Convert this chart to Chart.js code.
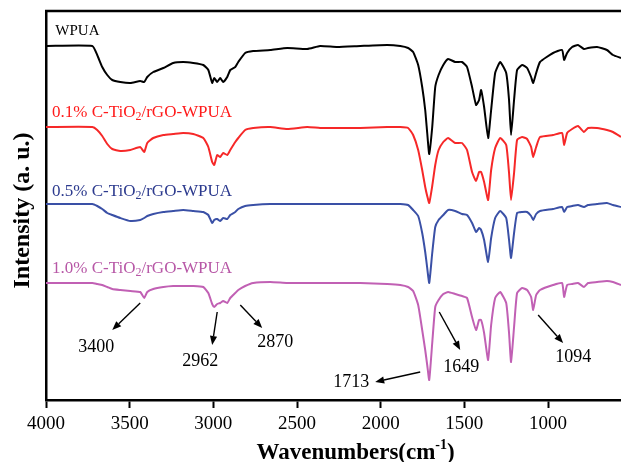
<!DOCTYPE html>
<html>
<head>
<meta charset="UTF-8">
<title>FTIR WPUA</title>
<script src="https://cdn.jsdelivr.net/npm/chart.js"></script>
<style>
  body { margin: 0; background: #fff; }
  #wrap { width: 621px; height: 462px; }
</style>
</head>
<body>
<div id="wrap"><canvas id="ftir" width="621" height="462"></canvas></div>
<script>
// wavenumbers (cm-1) shared by all four spectra
const wavenumbers = [4000, 3723, 3694, 3664, 3634, 3604, 3556, 3496, 3437, 3413, 3395, 3359, 3299, 3240, 3180, 3120,
  3060, 3030, 3007, 2995, 2977, 2959, 2941, 2917, 2899, 2869, 2851, 2810, 2762, 2660, 2558, 2439, 2362, 2260, 2122,
  1961, 1883, 1836, 1806, 1776, 1752, 1734, 1722, 1710, 1692, 1674, 1654, 1626, 1597, 1555, 1514, 1484, 1454, 1430,
  1412, 1400, 1382, 1358, 1340, 1316, 1286, 1250, 1233, 1221, 1203, 1185, 1155, 1125, 1101, 1089, 1071, 1048, 970,
  916, 904, 886, 856, 821, 785, 761, 707, 648, 612, 564];

// intensities (a.u., curves already stacked)
const wpua = [354,354,345,333,325,320,318,317,319,318, 323,328,332,337,338,337,335,330,317,322,
  318,322,318,323,330,333,338,347,349,350, 352,351,354,353,354,355,354,352,348,335,
  313,290,267,246,273,313,325,335,341,338, 338,333,313,295,300,310,293,262,290,327,
  338,327,300,265,300,330,335,332,323,317, 327,338,347,350,340,347,353,355,351,352, 353,350,345,342];
const tio01 = [273,273,270,264,256,251,249,250,253,248, 257,262,265,266,267,266,262,253,238,235,
  245,243,247,245,250,258,262,270,272,273, 271,273,272,272,272,273,273,272,265,250,
  230,213,204,197,214,235,250,258,262,257, 257,250,228,219,228,228,218,200,230,252,
  262,255,227,200,227,260,263,261,253,243, 253,263,265,267,255,267,271,274,268,272, 272,270,268,263];
const tio05 = [196,196,194,191,187,185,182,179,180,182, 184,186,188,189,190,189,188,185,177,180,
  181,179,182,181,185,188,191,194,195,196, 196,196,196,196,196,196,196,195,190,184,
  167,148,132,117,147,173,180,185,190,189, 186,185,177,168,172,170,160,138,162,182,
  189,182,160,142,167,187,188,188,184,180, 186,189,191,193,188,193,194,195,193,195, 196,197,195,193];
const tio10 = [117,117,116,115,113,111,110,109,108,102, 108,111,113,114,114,114,113,107,96,93,
  96,97,99,97,102,107,110,114,117,118, 117,117,117,117,117,116,115,113,109,95,
  70,50,35,20,57,93,100,106,108,106, 104,102,83,70,80,80,67,40,75,102,
  108,97,67,38,73,107,112,110,103,90, 105,110,115,117,103,115,116,117,113,117, 118,119,118,115];

const seriesNames = ['WPUA', '0.1% C-TiO2/rGO-WPUA', '0.5% C-TiO2/rGO-WPUA', '1.0% C-TiO2/rGO-WPUA'];
const xTicks = [4000, 3500, 3000, 2500, 2000, 1500, 1000];
const peakLabels = ['3400', '2962', '2870', '1713', '1649', '1094'];

const lineColors = ['#000000', '#f62828', '#3a50a6', '#c160b4'];
const textColors = ['#000000', '#ff1a1a', '#2c3a8e', '#b757a6'];
// where the series names sit: [wavenumber, intensity] of the baseline start
const nameAnchors = [[3944, 365], [3964, 283], [3964, 204], [3964, 127]];
// peak note text centre, arrow tail, arrow head
const peakTextAt = [[3700, 53], [3078, 39], [2630, 58], [2176, 18], [1519, 33], [850, 43]];
const arrowFrom = [[3437, 97], [2977, 88], [2839, 95], [1764, 28], [1650, 88], [1059, 85]];
const arrowTo = [[3604, 70], [3007, 55], [2708, 72], [2033, 18], [1525, 50], [910, 57]];

const SERIF = '"Liberation Serif", "Times New Roman", serif';
const series = [wpua, tio01, tio05, tio10];

function drawName(ctx, text, px, py, size) {
  const parts = text.split('TiO2');
  let cx = px;
  parts.forEach((p, i) => {
    const s = i < parts.length - 1 ? p + 'TiO' : p;
    ctx.font = `${size}px ${SERIF}`;
    ctx.fillText(s, cx, py);
    cx += ctx.measureText(s).width;
    if (i < parts.length - 1) {
      ctx.font = `${Math.round(size * 0.68)}px ${SERIF}`;
      ctx.fillText('2', cx, py + size * 0.18);
      cx += ctx.measureText('2').width;
    }
  });
}

function arrow(ctx, x1, y1, x2, y2) {
  const ang = Math.atan2(y2 - y1, x2 - x1);
  const hl = 9, hw = 3.6;
  const bx = x2 - hl * Math.cos(ang), by = y2 - hl * Math.sin(ang);
  ctx.beginPath();
  ctx.moveTo(x1, y1);
  ctx.lineTo(bx, by);
  ctx.stroke();
  ctx.beginPath();
  ctx.moveTo(x2, y2);
  ctx.lineTo(bx + hw * Math.sin(ang), by - hw * Math.cos(ang));
  ctx.lineTo(bx - hw * Math.sin(ang), by + hw * Math.cos(ang));
  ctx.closePath();
  ctx.fill();
}

const overlay = {
  id: 'overlay',
  afterDraw(chart) {
    const { ctx, chartArea: a, scales: { x, y } } = chart;
    ctx.save();
    // top frame line
    ctx.strokeStyle = '#000';
    ctx.lineWidth = 2.5;
    ctx.beginPath();
    ctx.moveTo(a.left - 1, a.top);
    ctx.lineTo(a.right, a.top);
    ctx.stroke();

    // series names
    ctx.textAlign = 'left';
    ctx.textBaseline = 'alphabetic';
    seriesNames.forEach((n, i) => {
      ctx.fillStyle = textColors[i];
      drawName(ctx, n, x.getPixelForValue(nameAnchors[i][0]), y.getPixelForValue(nameAnchors[i][1]), i === 0 ? 15 : 17);
    });

    // peak notes
    ctx.fillStyle = '#000';
    ctx.strokeStyle = '#000';
    ctx.lineWidth = 1.4;
    ctx.font = `18px ${SERIF}`;
    ctx.textAlign = 'center';
    ctx.textBaseline = 'middle';
    peakLabels.forEach((t, i) => {
      ctx.fillText(t, x.getPixelForValue(peakTextAt[i][0]), y.getPixelForValue(peakTextAt[i][1]));
      arrow(ctx, x.getPixelForValue(arrowFrom[i][0]), y.getPixelForValue(arrowFrom[i][1]),
        x.getPixelForValue(arrowTo[i][0]), y.getPixelForValue(arrowTo[i][1]));
    });

    // x axis title with superscript
    ctx.textAlign = 'left';
    ctx.textBaseline = 'alphabetic';
    const main = 'Wavenumbers(cm', sup = '-1', close = ')';
    const big = `bold 23px ${SERIF}`, small = `bold 14px ${SERIF}`;
    ctx.font = big; const w1 = ctx.measureText(main).width, w3 = ctx.measureText(close).width;
    ctx.font = small; const w2 = ctx.measureText(sup).width;
    let tx = x.getPixelForValue(2150) - (w1 + w2 + w3) / 2;
    const ty = 459;
    ctx.font = big; ctx.fillText(main, tx, ty); tx += w1;
    ctx.font = small; ctx.fillText(sup, tx, ty - 10); tx += w2;
    ctx.font = big; ctx.fillText(close, tx, ty);

    // y axis title
    ctx.translate(23, (a.top + a.bottom) / 2 + 5);
    ctx.rotate(-Math.PI / 2);
    ctx.textAlign = 'center';
    ctx.textBaseline = 'middle';
    ctx.font = `bold 24px ${SERIF}`;
    ctx.fillText('Intensity (a. u.)', 0, 0);
    ctx.restore();
  }
};

new Chart(document.getElementById('ftir'), {
  type: 'line',
  data: {
    datasets: series.map((s, i) => ({
      label: seriesNames[i],
      data: wavenumbers.map((w, k) => ({ x: w, y: s[k] })),
      borderColor: lineColors[i],
      borderWidth: 2,
      pointRadius: 0,
      tension: 0.15,
      fill: false
    }))
  },
  options: {
    responsive: false,
    animation: false,
    devicePixelRatio: 1,
    layout: { padding: { top: 11, right: 0, left: 0, bottom: 0 } },
    plugins: { legend: { display: false }, tooltip: { enabled: false } },
    scales: {
      x: {
        type: 'linear',
        reverse: true,
        min: 564,
        max: 4000,
        afterBuildTicks: s => { s.ticks = xTicks.map(v => ({ value: v })); },
        afterFit: s => { s.height = 62; },
        ticks: {
          autoSkip: false, maxRotation: 0, padding: 5, color: '#000',
          font: { family: SERIF, size: 19 },
          callback: v => String(v)
        },
        grid: { drawOnChartArea: false, tickLength: 8, tickWidth: 2, tickColor: '#000' },
        border: { color: '#000', width: 2.5 }
      },
      y: {
        min: 0,
        max: 389,
        afterFit: s => { s.width = 46; },
        ticks: { display: false },
        grid: { display: false },
        border: { color: '#000', width: 2.5 }
      }
    }
  },
  plugins: [overlay]
});
</script>
</body>
</html>
